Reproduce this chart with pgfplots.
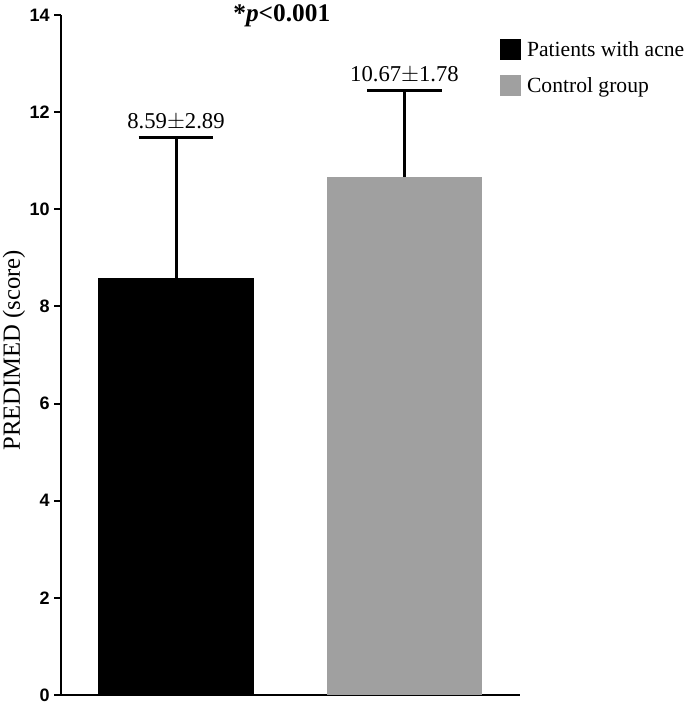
\documentclass[border=0pt]{standalone}
\usepackage{pgfplots}
\pgfplotsset{compat=1.18}
\usepackage{fontspec}
\setmainfont{Liberation Serif}
\newfontfamily\ticksans{Liberation Sans}
\definecolor{bargray}{RGB}{160,160,160}
\begin{document}
\begin{tikzpicture}
\begin{axis}[
  scale only axis, width=344.25pt, height=510pt,
  xmin=0, xmax=459, ymin=0, ymax=14,
  clip=false,
  axis lines=left,
  axis line style={line width=1.5pt,-},
  xtick=\empty, ytick={0,2,...,14},
  tick align=outside, major tick length=5pt,
  tick style={line width=1.5pt, black},
  yticklabel style={font=\ticksans\bfseries\fontsize{13.5}{13.5}\selectfont},
  /pgf/number format/assume math mode=true,
  ylabel={PREDIMED (score)},
  ylabel style={font=\fontsize{18.5}{18.5}\selectfont, at={(axis description cs:-0.1024,0.507)}, anchor=center},
  legend style={at={(rel axis cs:0.956,0.966)}, anchor=north west, draw=none, fill=none,
    font=\fontsize{16.2}{16.2}\selectfont, row sep=10.5pt, inner sep=0pt,
    nodes={inner xsep=4.5pt}},
  legend cell align=left,
]
\addplot[ybar, bar width=116.25pt, bar shift=0pt, fill=black, draw=none,
  legend image code/.code={\fill[black] (0pt,-7.875pt) rectangle (15.75pt,7.875pt);},
  error bars/.cd, y dir=plus, y explicit, error mark=|,
  error bar style={line width=2.25pt, black},
  error mark options={mark size=28pt, line width=2.25pt, black}]
  coordinates {(115,8.59) +- (0,2.89)};
\addlegendentry{Patients with acne}
\addplot[ybar, bar width=116.25pt, bar shift=0pt, fill=bargray, draw=none,
  legend image code/.code={\fill[bargray] (0pt,-7.875pt) rectangle (15.75pt,7.875pt);},
  error bars/.cd, y dir=plus, y explicit, error mark=|,
  error bar style={line width=2.25pt, black},
  error mark options={mark size=28pt, line width=2.25pt, black}]
  coordinates {(343.5,10.67) +- (0,1.78)};
\addlegendentry{Control group}
\node[anchor=south, font=\fontsize{17}{17}\selectfont, inner sep=0pt] at (axis cs:115,11.62) {8.59$\pm$2.89};
\node[anchor=south, font=\fontsize{17}{17}\selectfont, inner sep=0pt] at (axis cs:343.5,12.59) {10.67$\pm$1.78};
\node[font=\bfseries\fontsize{19}{19}\selectfont, inner sep=0pt] at (rel axis cs:0.481,0.999) {*\textit{p}<0.001};
\end{axis}
\pgfresetboundingbox
\path[use as bounding box] (-45.75pt,-6.75pt) rectangle (468pt,521.25pt);
\end{tikzpicture}
\end{document}
